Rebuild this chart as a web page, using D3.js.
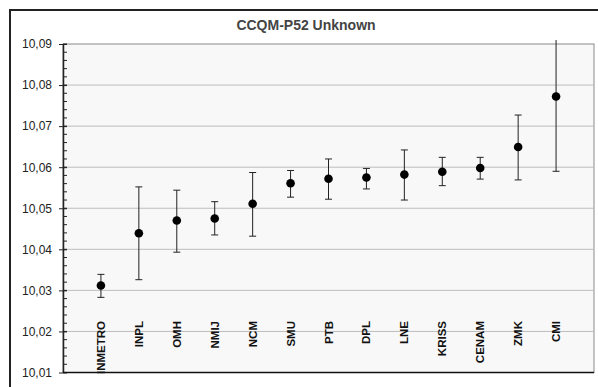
<!DOCTYPE html>
<html>
<head>
<meta charset="utf-8">
<script src="https://cdn.jsdelivr.net/npm/d3@7"></script>
<style>
  body { margin: 0; background: #fff; }
  svg { display: block; font-family: "Liberation Sans", Arial, sans-serif; }
</style>
</head>
<body>
<svg id="chart" width="598" height="387"></svg>
<script>
// Laboratories (sorted by result)
const labs = ["INMETRO", "INPL", "OMH", "NMIJ", "NCM", "SMU", "PTB", "DPL", "LNE", "KRISS", "CENAM", "ZMK", "CMI"];
// reported values
const values = [10.0312, 10.0439, 10.0470, 10.0475, 10.0511, 10.0561, 10.0572, 10.0575, 10.0582, 10.0589, 10.0598, 10.0649, 10.0772];
// error bar ends
const upper = [10.0339, 10.0552, 10.0544, 10.0516, 10.0587, 10.0592, 10.0620, 10.0597, 10.0642, 10.0624, 10.0624, 10.0727, 10.0954];
const lower = [10.0283, 10.0326, 10.0393, 10.0435, 10.0432, 10.0527, 10.0522, 10.0547, 10.0520, 10.0555, 10.0571, 10.0569, 10.0590];
const yTicks = [10.01, 10.02, 10.03, 10.04, 10.05, 10.06, 10.07, 10.08, 10.09];
const title = "CCQM-P52 Unknown";

const svg = d3.select("#chart");
const plot = { left: 63, top: 44, right: 594, bottom: 372.5 };

// outer frame
svg.append("rect")
  .attr("x", 10).attr("y", 10)
  .attr("width", 620).attr("height", 420)
  .attr("fill", "#fff")
  .attr("stroke", "#222")
  .attr("stroke-width", 2);

svg.append("text")
  .attr("x", 306).attr("y", 30)
  .attr("text-anchor", "middle")
  .attr("font-size", "14px")
  .attr("font-weight", "bold")
  .attr("fill", "#444")
  .text(title);

const x = d3.scalePoint()
  .domain(labs)
  .range([plot.left, plot.right])
  .padding(1);

const y = d3.scaleLinear()
  .domain([10.01, 10.09])
  .range([plot.bottom, plot.top]);

// plot area
svg.append("rect")
  .attr("x", plot.left).attr("y", plot.top)
  .attr("width", plot.right - plot.left)
  .attr("height", plot.bottom - plot.top)
  .attr("fill", "#f8f8f8")
  .attr("stroke", "#8a8a8a")
  .attr("stroke-width", 1);

// gridlines
svg.append("g")
  .selectAll("line")
  .data(yTicks.slice(1, -1))
  .enter()
  .append("line")
  .attr("x1", plot.left).attr("x2", plot.right)
  .attr("y1", d => y(d)).attr("y2", d => y(d))
  .attr("stroke", "#bdbdbd")
  .attr("stroke-width", 1);

// category labels (drawn before marks)
svg.append("g")
  .selectAll("text")
  .data(labs)
  .enter()
  .append("text")
  .attr("transform", d => `translate(${x(d) + 4}, 321) rotate(-90)`)
  .attr("text-anchor", "end")
  .attr("font-size", "11.5px")
  .attr("font-weight", "bold")
  .attr("fill", "#111")
  .text(d => d);

// minor ticks every 0.002
const minor = d3.range(0, 41).map(i => 10.01 + i * 0.002);
svg.append("g")
  .selectAll("line")
  .data(minor)
  .enter()
  .append("line")
  .attr("x1", plot.left).attr("x2", plot.left + 4)
  .attr("y1", d => y(d)).attr("y2", d => y(d))
  .attr("stroke", "#222");

// y axis
const yAxis = d3.axisLeft(y)
  .tickValues(yTicks)
  .tickSizeInner(4)
  .tickSizeOuter(0)
  .tickPadding(7)
  .tickFormat(d => d3.format(".2f")(d).replace(".", ","));

const ga = svg.append("g")
  .attr("transform", `translate(${plot.left},0)`)
  .call(yAxis);
ga.select(".domain").attr("stroke", "#222").attr("stroke-width", 1.5);
ga.selectAll(".tick line").attr("x2", 4).attr("x1", -4).attr("stroke", "#222");
ga.selectAll(".tick text")
  .attr("x", -11)
  .attr("font-size", "12px")
  .attr("font-family", "Liberation Sans, Arial, sans-serif")
  .attr("fill", "#222");

// x axis line
svg.append("line")
  .attr("x1", plot.left).attr("x2", plot.right)
  .attr("y1", plot.bottom).attr("y2", plot.bottom)
  .attr("stroke", "#111")
  .attr("stroke-width", 1.5);

// clip error bars slightly above plot top
svg.append("clipPath").attr("id", "clip")
  .append("rect")
  .attr("x", plot.left).attr("y", plot.top - 4)
  .attr("width", plot.right - plot.left)
  .attr("height", plot.bottom - plot.top + 4);

const data = labs.map((lab, i) => ({ lab, v: values[i], hi: upper[i], lo: lower[i] }));
const capW = 3.5;

const bars = svg.append("g")
  .attr("clip-path", "url(#clip)")
  .selectAll("g")
  .data(data)
  .enter()
  .append("g")
  .attr("stroke", "#222")
  .attr("stroke-width", 1);

bars.append("line")
  .attr("x1", d => x(d.lab)).attr("x2", d => x(d.lab))
  .attr("y1", d => y(d.hi)).attr("y2", d => y(d.lo));

bars.filter(d => d.hi < 10.09).append("line")
  .attr("x1", d => x(d.lab) - capW).attr("x2", d => x(d.lab) + capW)
  .attr("y1", d => y(d.hi)).attr("y2", d => y(d.hi));

bars.append("line")
  .attr("x1", d => x(d.lab) - capW).attr("x2", d => x(d.lab) + capW)
  .attr("y1", d => y(d.lo)).attr("y2", d => y(d.lo));

svg.append("g")
  .selectAll("circle")
  .data(data)
  .enter()
  .append("circle")
  .attr("cx", d => x(d.lab))
  .attr("cy", d => y(d.v))
  .attr("r", 4.3)
  .attr("fill", "#000");
</script>
</body>
</html>
